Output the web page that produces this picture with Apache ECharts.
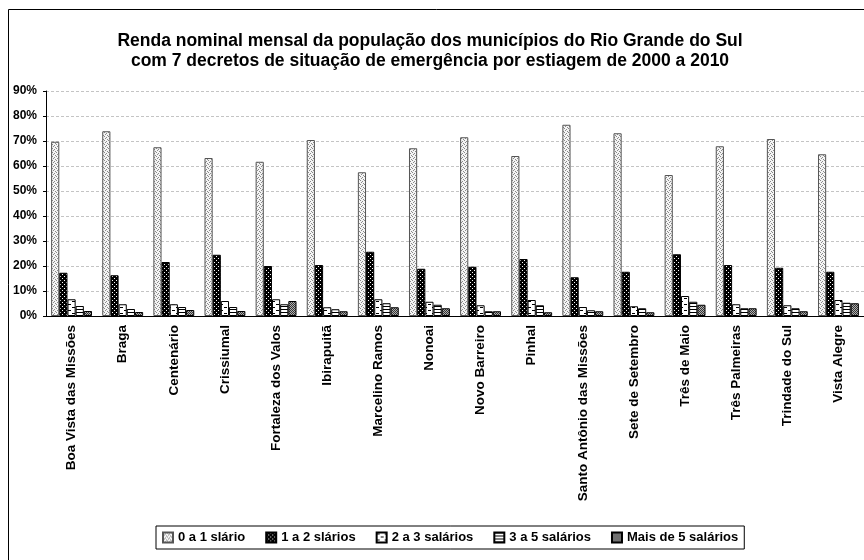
<!DOCTYPE html>
<html>
<head>
<meta charset="utf-8">
<script src="https://cdn.jsdelivr.net/npm/echarts@6/dist/echarts.min.js"></script>
<style>
  html, body { margin: 0; padding: 0; background: #fff; }
  #chart { width: 864px; height: 560px; }
</style>
</head>
<body>
<div id="chart"></div>
<script>
// municipios
const categories = [
  'Boa Vista das Missões', 'Braga', 'Centenário', 'Crissiumal', 'Fortaleza dos Valos',
  'Ibirapuitã', 'Marcelino Ramos', 'Nonoai', 'Novo Barreiro', 'Pinhal',
  'Santo Antônio das Missões', 'Sete de Setembro', 'Três de Maio', 'Três Palmeiras',
  'Trindade do Sul', 'Vista Alegre'
];
const seriesNames = ['0 a 1 slário', '1 a 2 slários', '2 a 3 salários', '3 a 5 salários', 'Mais de 5 salários'];

// valores em %
const s0a1 = [69.7, 73.9, 67.5, 63.2, 61.7, 70.4, 57.5, 67.1, 71.5, 64.0, 76.5, 73.1, 56.4, 67.9, 70.8, 64.7];
const s1a2 = [17.3, 16.3, 21.6, 24.5, 20.0, 20.4, 25.7, 18.9, 19.7, 22.8, 15.5, 17.7, 24.7, 20.4, 19.3, 17.7];
const s2a3 = [6.7, 4.7, 4.7, 6.0, 6.7, 3.5, 6.7, 5.7, 4.3, 6.4, 3.6, 3.9, 8.0, 4.7, 4.3, 6.4];
const s3a5 = [4.0, 2.8, 3.6, 3.6, 4.7, 2.7, 5.1, 4.5, 1.9, 4.3, 2.3, 3.1, 5.7, 3.1, 3.1, 5.3];
const sMais5 = [2.0, 1.6, 2.4, 2.0, 6.0, 1.9, 3.5, 3.1, 1.9, 1.5, 1.9, 1.5, 4.5, 3.1, 1.9, 5.1];

const yTicks = [0, 10, 20, 30, 40, 50, 60, 70, 80, 90];

// hachuras tipo excel
function makePattern(w, h, bg, fg, pixels) {
  const c = document.createElement('canvas');
  c.width = w; c.height = h;
  const ctx = c.getContext('2d');
  ctx.fillStyle = bg;
  ctx.fillRect(0, 0, w, h);
  ctx.fillStyle = fg;
  pixels.forEach(p => ctx.fillRect(p[0], p[1], p[2] || 1, p[3] || 1));
  return { image: c, repeat: 'repeat' };
}

const patterns = [
  makePattern(4, 4, '#f4f4f4', '#8a8a8a', [[0, 0], [2, 1], [1, 2], [3, 3]]),
  makePattern(4, 4, '#000000', '#ffffff', [[0, 0], [2, 2]]),
  makePattern(8, 6, '#ffffff', '#000000', [[0, 1, 3, 1], [4, 4, 3, 1]]),
  makePattern(3, 3, '#ffffff', '#000000', [[0, 0, 3, 1]]),
  makePattern(2, 2, '#b0b0b0', '#333333', [[0, 0], [1, 1]])
];
const seriesData = [s0a1, s1a2, s2a3, s3a5, sMais5];

const font = 'Liberation Sans, Arial, sans-serif';
let myChart = echarts.init(document.getElementById('chart'));
let option;

option = {
  animation: false,
  backgroundColor: '#fff',
  title: {
    text: 'Renda nominal mensal da população dos municípios do Rio Grande do Sul\ncom 7 decretos de situação de emergência por estiagem de 2000 a 2010',
    left: 425,
    top: 26,
    textAlign: 'center',
    textStyle: { fontFamily: font, fontSize: 17.5, fontWeight: 'bold', color: '#000', lineHeight: 20 }
  },
  graphic: [{
    type: 'polyline',
    shape: { points: [[8.5, 560], [8.5, 9.5], [864, 9.5]] },
    style: { stroke: '#000', lineWidth: 1, fill: null }
  }],
  legend: {
    data: seriesNames,
    left: 156,
    top: 526,
    itemWidth: 10,
    itemHeight: 10,
    itemGap: 20,
    padding: [5, 6],
    borderColor: '#000',
    borderWidth: 1,
    icon: 'rect',
    textStyle: { fontFamily: font, fontSize: 13, fontWeight: 'bold', color: '#000' }
  },
  grid: {
    left: 46,
    right: -7,
    top: 91,
    bottom: 244
  },
  xAxis: {
    type: 'category',
    data: categories,
    axisLine: { lineStyle: { color: '#000', width: 1 } },
    axisTick: { length: 4, lineStyle: { color: '#000' } },
    axisLabel: {
      rotate: 90,
      margin: 9,
      interval: 0,
      fontFamily: font,
      fontSize: 13.5,
      fontWeight: 'bold',
      color: '#000'
    }
  },
  yAxis: {
    type: 'value',
    min: yTicks[0],
    max: yTicks[yTicks.length - 1],
    interval: 10,
    axisLine: { show: true, lineStyle: { color: '#000', width: 1 } },
    axisTick: { show: true, length: 3, lineStyle: { color: '#000' } },
    splitLine: { lineStyle: { color: '#c4c4c4', type: [3, 2] } },
    axisLabel: {
      formatter: '{value}%',
      margin: 9,
      fontFamily: font,
      fontSize: 12,
      fontWeight: 'bold',
      color: '#000'
    }
  },
  series: seriesData.map((d, i) => ({
    name: seriesNames[i],
    type: 'bar',
    data: d,
    barGap: 0,
    barCategoryGap: '20%',
    itemStyle: { color: patterns[i], borderColor: i === 0 ? '#555' : '#000', borderWidth: 1 }
  }))
};

option && myChart.setOption(option);
</script>
</body>
</html>
